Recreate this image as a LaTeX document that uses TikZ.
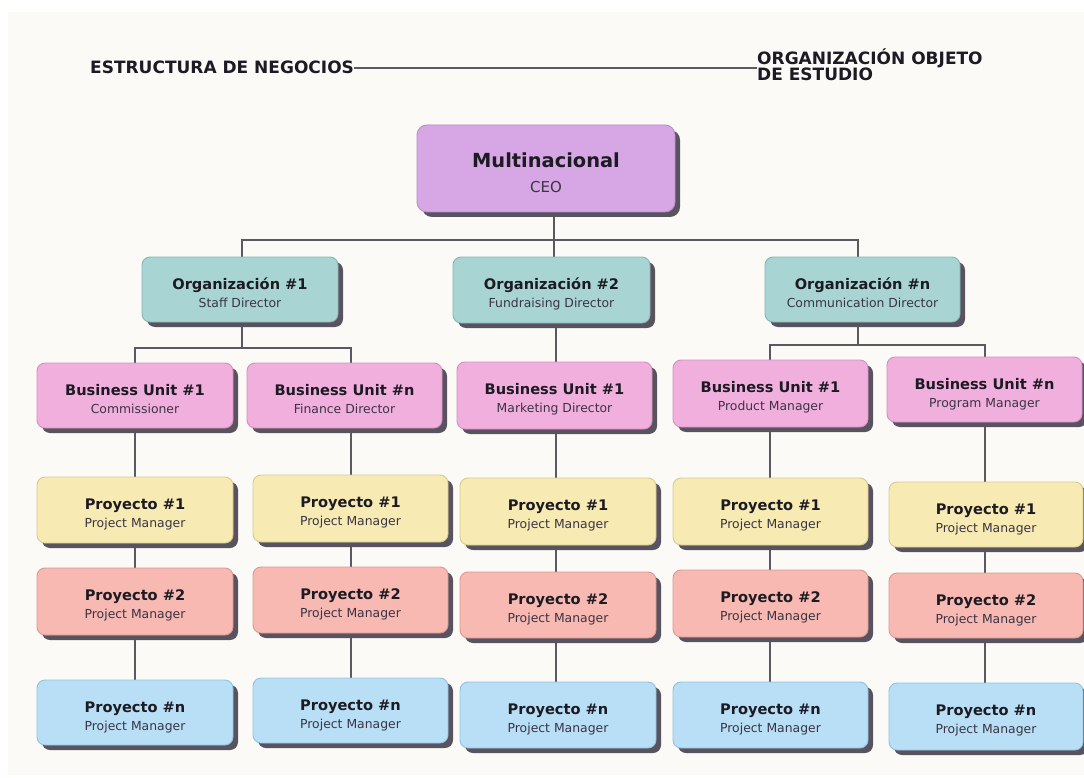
\documentclass[tikz,border=0pt]{standalone}
\usepackage{fontspec}
\setmainfont{DejaVu Sans}
\usetikzlibrary{shadows,calc}

\definecolor{paper}{HTML}{FBFAF7}
\definecolor{ink}{HTML}{1C1A22}
\definecolor{subink}{HTML}{3A3445}
\definecolor{wirec}{HTML}{5A5860}
\definecolor{shade}{HTML}{58535F}
\definecolor{ceofill}{HTML}{D7A6E5}
\definecolor{ceoline}{HTML}{B88BCB}
\definecolor{orgfill}{HTML}{A8D5D4}
\definecolor{orgline}{HTML}{82B7B6}
\definecolor{bufill}{HTML}{F1AFDE}
\definecolor{buline}{HTML}{D58FC2}
\definecolor{pafill}{HTML}{F7EBB3}
\definecolor{paline}{HTML}{D9CB8C}
\definecolor{pbfill}{HTML}{F7B9B1}
\definecolor{pbline}{HTML}{DC9990}
\definecolor{pnfill}{HTML}{B8DFF6}
\definecolor{pnline}{HTML}{8EC3E2}

\pgfdeclarelayer{sheet}
\pgfdeclarelayer{wires}
\pgfsetlayers{sheet,wires,main}

\tikzset{
  card/.style={rounded corners=8pt, line width=0.9pt, inner sep=0pt, outer sep=0pt,
    anchor=north west,
    general shadow={fill=shade, shadow xshift=5pt, shadow yshift=-5pt}},
  ceocard/.style={card, fill=ceofill, draw=ceoline, rounded corners=10pt},
  orgcard/.style={card, fill=orgfill, draw=orgline},
  bucard/.style={card, fill=bufill, draw=buline},
  pacard/.style={card, fill=pafill, draw=paline},
  pbcard/.style={card, fill=pbfill, draw=pbline},
  pncard/.style={card, fill=pnfill, draw=pnline},
  titletxt/.style={anchor=base, inner sep=0pt, text=ink,
    font=\bfseries\fontsize{14.6}{16}\selectfont},
  subtxt/.style={anchor=base, inner sep=0pt, text=subink,
    font=\fontsize{12.4}{14}\selectfont},
  wire/.style={draw=wirec, line width=1.4pt},
  header/.style={anchor=base west, inner sep=0pt, text=ink,
    font=\bfseries\fontsize{17}{17}\selectfont},
}

% #1 name, #2 style, #3 left, #4 top, #5 right, #6 bottom, #7 title, #8 role
\newcommand\unitbox[8]{%
  \node[#2, minimum width={#5-#3}, minimum height={#6-#4}] (#1) at (#3,#4) {};
  \node[titletxt] (#1-t) at ($(#1.north)+(0,32)$) {#7};
  \node[subtxt] (#1-s) at ($(#1.north)+(0,50)$) {#8};
}

\begin{document}
\begin{tikzpicture}[x=1pt, y=-1pt]
  \useasboundingbox (0,0) rectangle (1084,778);
  \begin{pgfonlayer}{sheet}
    \fill[white] (0,0) rectangle (1084,778);
    \fill[paper] (8,12) rectangle (1084,775);
  \end{pgfonlayer}

  % headings
  \node[header] (hl) at (90,74) {ESTRUCTURA DE NEGOCIOS};
  \node[header] (hr1) at (757,65) {ORGANIZACIÓN OBJETO};
  \node[header] (hr2) at (757,81) {DE ESTUDIO};
  \draw[wire, line width=1.6pt] (hl.east) -- (hl.east -| hr1.west);

  % top level
  \node[ceocard, minimum width=258, minimum height=87] (ceo) at (417,125) {};
  \node[titletxt, font=\bfseries\fontsize{19.4}{22}\selectfont] (ceo-t)
    at ($(ceo.north)+(0,43)$) {Multinacional};
  \node[subtxt, font=\fontsize{15}{17}\selectfont] (ceo-s)
    at ($(ceo.north)+(0,68)$) {CEO};

  % organizations
  \unitbox{org1}{orgcard}{142}{257}{338}{322}{Organización \#1}{Staff Director}
  \unitbox{org2}{orgcard}{453}{257}{650}{323}{Organización \#2}{Fundraising Director}
  \unitbox{orgn}{orgcard}{765}{257}{960}{322}{Organización \#n}{Communication Director}

  % business units
  \unitbox{bu1}{bucard}{37}{363}{233}{428}{Business Unit \#1}{Commissioner}
  \unitbox{bu2}{bucard}{247}{363}{442}{428}{Business Unit \#n}{Finance Director}
  \unitbox{bu3}{bucard}{457}{362}{652}{429}{Business Unit \#1}{Marketing Director}
  \unitbox{bu4}{bucard}{673}{360}{868}{427}{Business Unit \#1}{Product Manager}
  \unitbox{bu5}{bucard}{887}{357}{1082}{422}{Business Unit \#n}{Program Manager}

  % projects #1
  \unitbox{pa1}{pacard}{37}{477}{233}{543}{Proyecto \#1}{Project Manager}
  \unitbox{pa2}{pacard}{253}{475}{448}{542}{Proyecto \#1}{Project Manager}
  \unitbox{pa3}{pacard}{460}{478}{656}{545}{Proyecto \#1}{Project Manager}
  \unitbox{pa4}{pacard}{673}{478}{868}{545}{Proyecto \#1}{Project Manager}
  \unitbox{pa5}{pacard}{889}{482}{1083}{547}{Proyecto \#1}{Project Manager}

  % projects #2
  \unitbox{pb1}{pbcard}{37}{568}{233}{635}{Proyecto \#2}{Project Manager}
  \unitbox{pb2}{pbcard}{253}{567}{448}{633}{Proyecto \#2}{Project Manager}
  \unitbox{pb3}{pbcard}{460}{572}{656}{638}{Proyecto \#2}{Project Manager}
  \unitbox{pb4}{pbcard}{673}{570}{868}{637}{Proyecto \#2}{Project Manager}
  \unitbox{pb5}{pbcard}{889}{573}{1083}{638}{Proyecto \#2}{Project Manager}

  % projects #n
  \unitbox{pn1}{pncard}{37}{680}{233}{745}{Proyecto \#n}{Project Manager}
  \unitbox{pn2}{pncard}{253}{678}{448}{743}{Proyecto \#n}{Project Manager}
  \unitbox{pn3}{pncard}{460}{682}{656}{748}{Proyecto \#n}{Project Manager}
  \unitbox{pn4}{pncard}{673}{682}{868}{748}{Proyecto \#n}{Project Manager}
  \unitbox{pn5}{pncard}{889}{683}{1083}{750}{Proyecto \#n}{Project Manager}

  % connectors, kept behind the cards
  \begin{pgfonlayer}{wires}
    \coordinate (x1) at (135,0);
    \coordinate (x2) at (351,0);
    \coordinate (x3) at (556,0);
    \coordinate (x4) at (770,0);
    \coordinate (x5) at (985,0);
    \coordinate (j0) at (554,240);
    \coordinate (k1) at (242,348);
    \coordinate (k3) at (858,345);

    \draw[wire] (ceo.south -| j0) -- (j0);
    \draw[wire] (org1.north -| k1) |- (j0) -| (orgn.north -| k3);
    \draw[wire] (j0) -- (org2.north -| j0);

    \draw[wire] (org1.south -| k1) -- (k1);
    \draw[wire] (bu1.north -| x1) |- (k1) -| (bu2.north -| x2);
    \draw[wire] (org2.south -| x3) -- (bu3.north -| x3);
    \draw[wire] (orgn.south -| k3) -- (k3);
    \draw[wire] (bu4.north -| x4) |- (k3) -| (bu5.north -| x5);

    \foreach \i in {1,...,5} {
      \draw[wire] (bu\i.south -| x\i) -- (pa\i.north -| x\i);
      \draw[wire] (pa\i.south -| x\i) -- (pb\i.north -| x\i);
      \draw[wire] (pb\i.south -| x\i) -- (pn\i.north -| x\i);
    }
  \end{pgfonlayer}
\end{tikzpicture}
\end{document}
